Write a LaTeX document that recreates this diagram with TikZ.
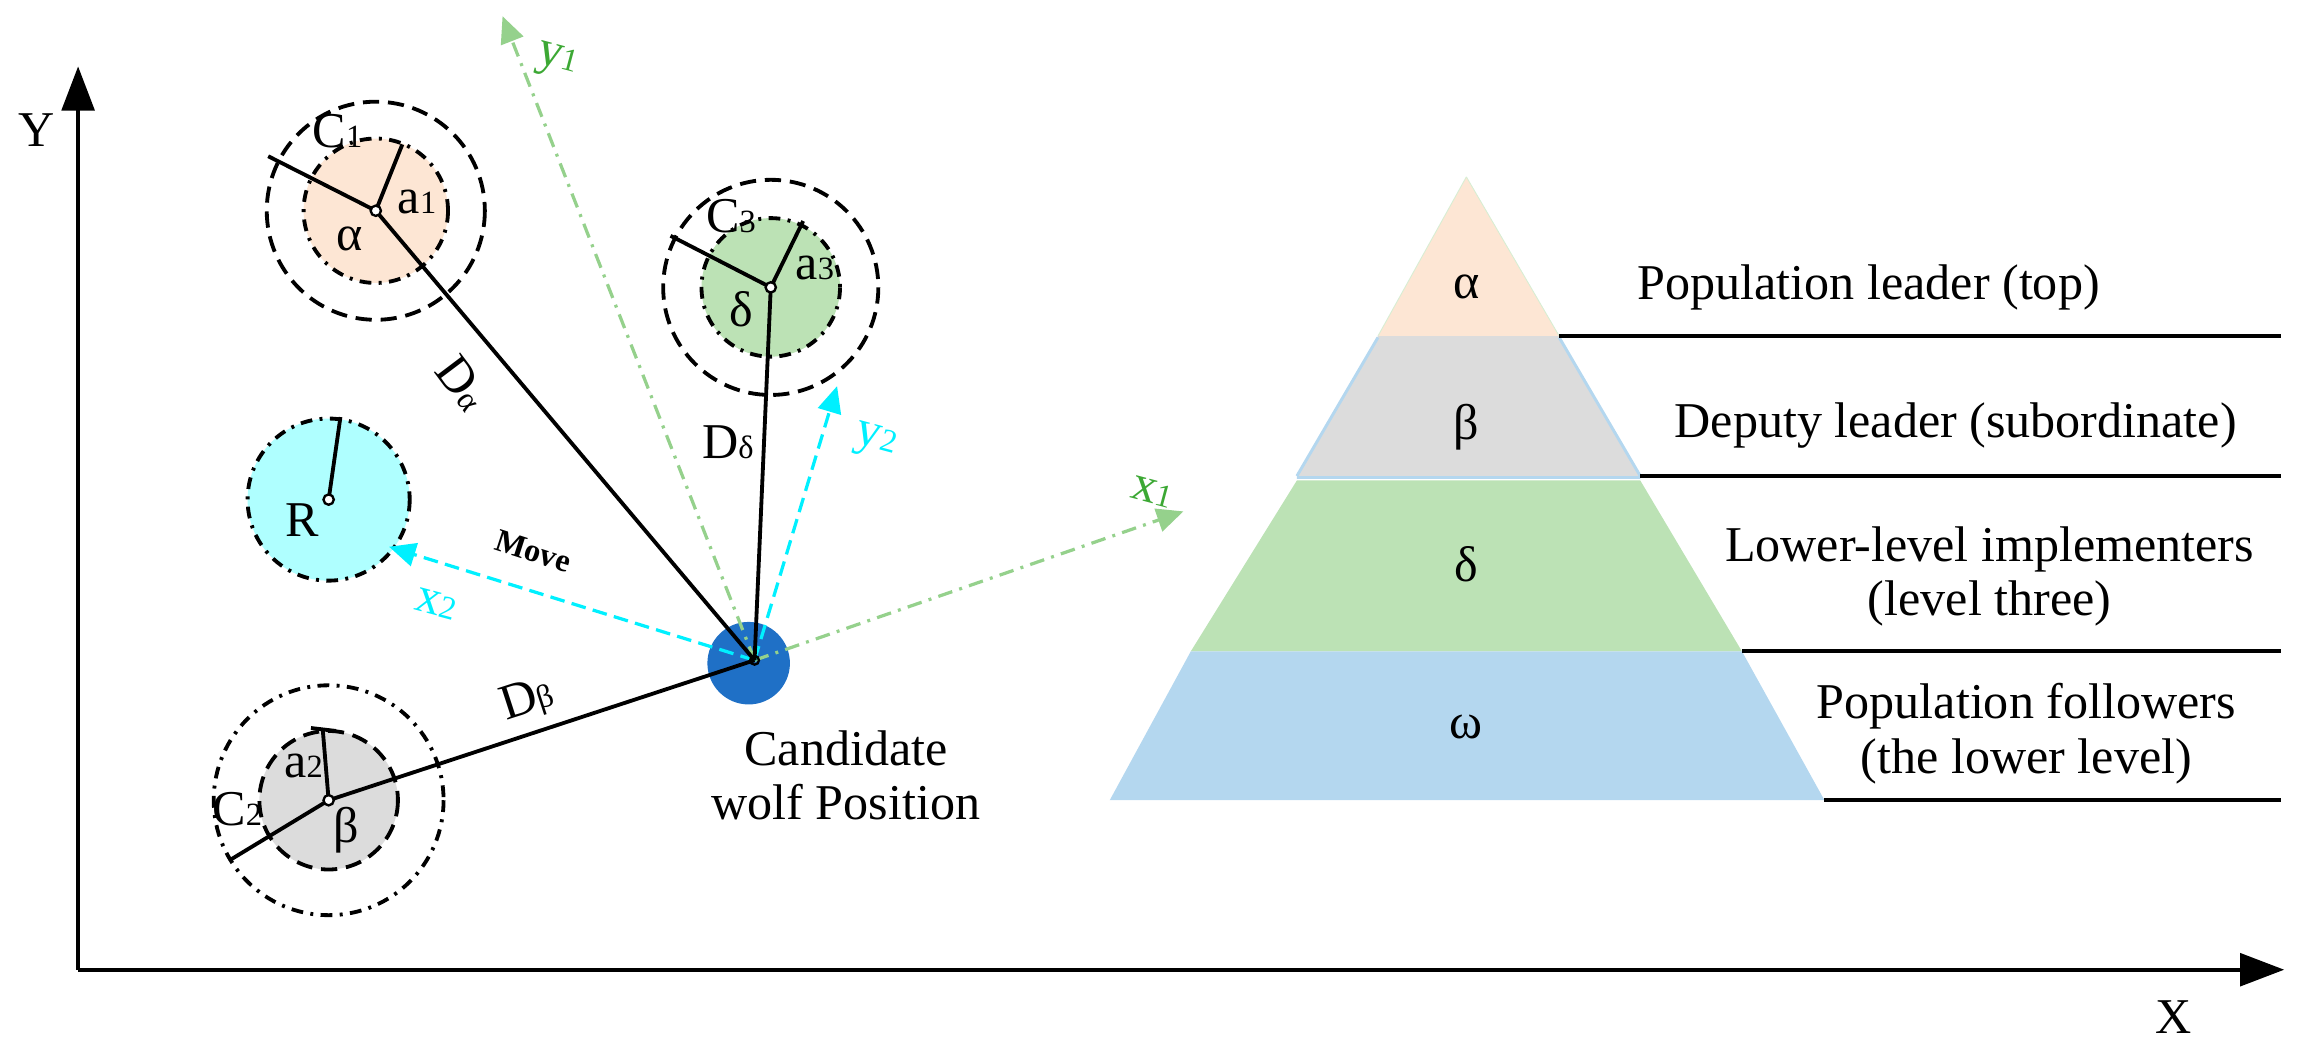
\documentclass[tikz,border=0pt]{standalone}
\usepackage{fontspec}
\setmainfont{Liberation Serif}
\newfontfamily\tnr{Liberation Serif}
\usetikzlibrary{arrows.meta}
\definecolor{cA}{HTML}{FDE6D4}
\definecolor{cB}{HTML}{DCDCDC}
\definecolor{cD}{HTML}{BCE2B5}
\definecolor{cW}{HTML}{B4D7EF}
\definecolor{cR}{HTML}{AFFFFF}
\definecolor{cC}{HTML}{1F70C6}
\definecolor{cG}{HTML}{95D18C}
\definecolor{cGt}{HTML}{3CA834}
\definecolor{cCy}{HTML}{00F0FF}
\newcommand{\sbx}[1]{{\fontsize{22}{24}\selectfont #1}}
\begin{document}
\begin{tikzpicture}[x=1pt,y=-1pt,
  lab/.style={font=\tnr\fontsize{34}{37}\selectfont, inner sep=0pt},
  blk/.style={line width=2.6pt},
  dsh/.style={line width=2.6pt, dash pattern=on 11pt off 6pt},
  dds/.style={line width=2.6pt, dash pattern=on 8pt off 5pt on 2pt off 5pt},
  garr/.style={cG, line width=2.2pt, dash pattern=on 10pt off 5pt on 2pt off 5pt, -{Triangle[length=18pt,width=16pt]}},
  carr/.style={cCy, line width=2.2pt, dash pattern=on 10pt off 5pt, -{Triangle[length=18pt,width=16pt]}}]
\useasboundingbox (0,0) rectangle (1560,712);
% axes
\draw[line width=3pt,-{Triangle[length=30pt,width=22pt]}] (53,658) -- (53,45);
\draw[line width=3pt,-{Triangle[length=30pt,width=22pt]}] (53,658) -- (1550,658);
\node[lab] (Ylab) at (25,88) {Y};
\node[lab] (Xlab) at (1475,690) {X};
% candidate
\fill[cC] (508,450) circle (28);
\coordinate (cand) at (512,448);
% coordinates
\coordinate (alc) at (255,143);
\coordinate (dec) at (523,195);
\coordinate (bec) at (223,543);
\coordinate (rc) at (223,339);
% fills
\fill[cA] (alc) circle (49);
\fill[cD] (dec) circle (47);
\fill[cB] (bec) circle (47);
\fill[cR] (rc) circle (55);
% circles
\draw[dds] (alc) circle (49);
\draw[dsh] (alc) circle (74);
\draw[dds] (dec) circle (47);
\draw[dsh] (dec) circle (73);
\draw[dsh] (bec) circle (47);
\draw[dds] (bec) circle (78);
\draw[dds] (rc) circle (55);
% green axes
\coordinate (y1e) at (341,11);
\coordinate (x1e) at (803,347);
\draw[garr] (cand) -- (y1e);
\draw[garr] (cand) -- (x1e);
\node[lab, text=cGt, rotate=-15] (y1l) at (378,42) {y\sbx{1}};
\node[lab, text=cGt, rotate=-15] (x1l) at (782,334) {x\sbx{1}};
% cyan axes
\coordinate (x2e) at (264,371);
\coordinate (y2e) at (568,262);
\draw[carr] (cand) -- (x2e);
\draw[carr] (cand) -- (y2e);
\node[lab, text=cCy, rotate=-15] (x2l) at (296,410) {x\sbx{2}};
\node[lab, text=cCy, rotate=-15] (y2l) at (594,300) {y\sbx{2}};
\node[font=\tnr\fontsize{22}{24}\selectfont\bfseries, inner sep=0pt, rotate=-18] (mv) at (362,374) {Move};
% distance lines
\draw[blk] (alc) -- (cand);
\draw[blk] (dec) -- (cand);
\draw[blk] (bec) -- (cand);
\node[lab, rotate=-53] (Da) at (314,260) {D\sbx{α}};
\node[lab] (Dd) at (494,300) {D\sbx{δ}};
\node[lab, rotate=18] (Db) at (358,475) {D\sbx{β}};
% radii
\draw[blk] (alc) -- (182,106);
\draw[blk] (alc) -- (273,98);
\draw[blk] (dec) -- (455,160);
\draw[blk] (dec) -- (545,150);
\draw[blk] (bec) -- (157,583);
\draw[blk] (bec) -- (219,495);
\draw[blk] (211,494) -- (228,496);
\draw[blk] (rc) -- (231,283);
\foreach \c in {alc,dec,bec,rc} \draw[line width=1.6pt, fill=white] (\c) circle (3.5);
\draw[line width=1.6pt] (cand) circle (3);
% circle labels
\node[lab] (C1) at (229,89) {C\sbx{1}};
\node[lab] (a1) at (283,137) {a\sbx{1}};
\node[lab] (al) at (237,162) {α};
\node[lab] (C3) at (496,147) {C\sbx{3}};
\node[lab] (a3) at (553,182) {a\sbx{3}};
\node[lab] (dl) at (503,210) {δ};
\node[lab] (a2) at (206,520) {a\sbx{2}};
\node[lab] (C2) at (161,549) {C\sbx{2}};
\node[lab] (bl) at (235,563) {β};
\node[lab] (Rl) at (205,353) {R};
\node[lab, align=center] (cl) at (574,526) {Candidate\\wolf Position};
% pyramid
\fill[cA] (995,120) -- (1058,228) -- (935,228) -- cycle;
\draw[cD!60, line width=0.6pt] (995,120) -- (1058,228) (995,120) -- (935,228);
\fill[cB] (935,228) -- (1058,228) -- (1113,323) -- (880,323) -- cycle;
\draw[cW, line width=2pt] (935,229) -- (880,323) (1058,229) -- (1113,323) (880,324) -- (1113,324);
\fill[cD] (880,326) -- (1113,326) -- (1182,442) -- (808,442) -- cycle;
\fill[cW] (808,442) -- (1182,442) -- (1238,543) -- (753,543) -- cycle;
\node[lab] (pa) at (995,195) {α};
\node[lab] (pb) at (995,290) {β};
\node[lab] (pd) at (995,383) {δ};
\node[lab] (pw) at (995,493) {ω};
\coordinate (l1) at (1058,228); \coordinate (r1) at (1548,228);
\coordinate (l2) at (1113,323); \coordinate (r2) at (1548,323);
\coordinate (l3) at (1182,442); \coordinate (r3) at (1548,442);
\coordinate (l4) at (1238,543); \coordinate (r4) at (1548,543);
\draw[blk] (l1) -- (r1);
\draw[blk] (l2) -- (r2);
\draw[blk] (l3) -- (r3);
\draw[blk] (l4) -- (r4);
\node[lab] (t1) at (1268,195) {Population leader (top)};
\node[lab] (t2) at (1327,289) {Deputy leader (subordinate)};
\node[lab, align=center] (t3) at (1350,391) {Lower-level implementers\\(level three)};
\node[lab, align=center] (t4) at (1375,498) {Population followers\\(the lower level)};
\end{tikzpicture}
\end{document}
